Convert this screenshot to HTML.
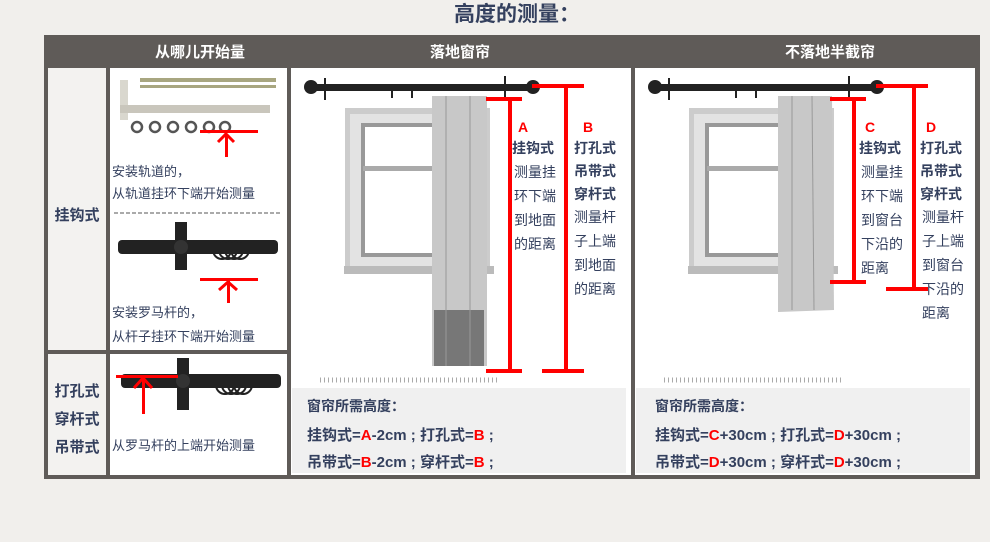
<!DOCTYPE html>
<html><head><meta charset="utf-8"><style>
body{margin:0;width:990px;height:537px;overflow:hidden;background:#f1efec;}
svg text{font-family:"Liberation Sans","Noto Sans CJK SC",sans-serif;}
</style></head><body>
<svg width="990" height="537" xmlns="http://www.w3.org/2000/svg">
<rect width="990" height="537" fill="#f1efec"/>
<text x="517" y="21" font-size="21" font-weight="bold" fill="#34405e" text-anchor="middle">高度的测量：</text>
<rect x="44" y="35" width="936" height="444" fill="#5f5b58"/>
<rect x="48" y="68" width="58" height="282" fill="#f3f2f0"/>
<rect x="110" y="68" width="177" height="282" fill="#fff"/>
<rect x="291" y="68" width="340" height="407" fill="#fff"/>
<rect x="635" y="68" width="340" height="407" fill="#fff"/>
<rect x="48" y="354" width="58" height="121" fill="#f3f2f0"/>
<rect x="110" y="354" width="177" height="121" fill="#fff"/>
<g font-size="15" font-weight="bold" fill="#fff" text-anchor="middle">
<text x="200" y="57">从哪儿开始量</text><text x="460" y="57">落地窗帘</text><text x="830" y="57">不落地半截帘</text></g>
<g font-size="15" font-weight="bold" fill="#34405e" text-anchor="middle">
<text x="77" y="220">挂钩式</text>
<text x="77" y="396">打孔式</text><text x="77" y="424">穿杆式</text><text x="77" y="452">吊带式</text></g>
<rect x="120" y="80" width="8" height="40" fill="#d9d7ce"/>
<rect x="140" y="78" width="136" height="4" fill="#a8a680"/><rect x="140" y="85" width="136" height="3" fill="#a8a680"/>
<rect x="120" y="105" width="150" height="8" fill="#c9c6bc"/>
<g fill="none" stroke="#555" stroke-width="2.5"><circle cx="137" cy="127" r="5"/><circle cx="155" cy="127" r="5"/><circle cx="173" cy="127" r="5"/><circle cx="191" cy="127" r="5"/><circle cx="209" cy="127" r="5"/><circle cx="225" cy="127" r="5"/></g>
<rect x="200" y="130" width="58" height="3" fill="red"/><rect x="225" y="135" width="3" height="22" fill="red"/>
<path d="M218 142 L226 134 L234 142" stroke="red" stroke-width="3" fill="none"/>
<g font-size="13" fill="#34405e"><text x="112" y="176">安装轨道的，</text><text x="112" y="198">从轨道挂环下端开始测量</text>
<text x="112" y="317">安装罗马杆的，</text><text x="112" y="341">从杆子挂环下端开始测量</text>
<text x="112" y="450">从罗马杆的上端开始测量</text></g>
<line x1="114" y1="213" x2="280" y2="213" stroke="#555" stroke-dasharray="4,2"/>
<rect x="118" y="240" width="160" height="14" rx="4" fill="#222"/>
<rect x="175" y="222" width="12" height="48" fill="#222"/><circle cx="181" cy="247" r="7" fill="#333"/>
<g fill="none" stroke="#222" stroke-width="2"><circle cx="222" cy="250" r="9"/><circle cx="228" cy="250" r="9"/><circle cx="234" cy="250" r="9"/><circle cx="240" cy="250" r="9"/></g>
<rect x="200" y="278" width="58" height="3" fill="red"/><rect x="227" y="281" width="3" height="22" fill="red"/>
<path d="M219 290 L228 282 L237 290" stroke="red" stroke-width="3" fill="none"/>
<rect x="121" y="374" width="160" height="14" rx="4" fill="#222"/>
<rect x="177" y="358" width="12" height="52" fill="#222"/><circle cx="183" cy="381" r="7" fill="#333"/>
<g fill="none" stroke="#222" stroke-width="2"><circle cx="225" cy="385" r="9"/><circle cx="231" cy="385" r="9"/><circle cx="237" cy="385" r="9"/><circle cx="243" cy="385" r="9"/></g>
<rect x="116" y="375" width="62" height="3" fill="red"/><rect x="142" y="378" width="3" height="36" fill="red"/>
<path d="M134 388 L143 378 L152 388" stroke="red" stroke-width="3" fill="none"/>
<g id="win">
<rect x="345" y="108" width="145" height="165" fill="#ccc"/><rect x="350" y="114" width="135" height="156" fill="#e3e3e3"/>
<rect x="363" y="125" width="110" height="130" fill="#fff" stroke="#999" stroke-width="4"/>
<rect x="363" y="166" width="110" height="5" fill="#aaa"/>
<rect x="344" y="266" width="150" height="8" fill="#bbb"/>
<rect x="310" y="84" width="225" height="7" rx="3" fill="#222"/><circle cx="311" cy="87" r="7" fill="#222"/><circle cx="533" cy="87" r="7" fill="#222"/>
<g stroke="#222" stroke-width="2"><line x1="325" y1="78" x2="325" y2="100"/><line x1="392" y1="88" x2="392" y2="98"/><line x1="412" y1="88" x2="412" y2="98"/><line x1="505" y1="76" x2="505" y2="98"/></g>
<line x1="320" y1="380" x2="500" y2="380" stroke="#aaa" stroke-width="5" stroke-dasharray="1,3"/>
</g>
<use href="#win" x="344" y="0"/>
<rect x="432" y="96" width="55" height="270" fill="#c8c8c8"/><rect x="434" y="310" width="50" height="56" fill="#777"/>
<line x1="446" y1="96" x2="446" y2="366" stroke="#999"/><line x1="470" y1="96" x2="470" y2="366" stroke="#999"/>
<path d="M778 96 L832 96 L834 310 L778 312 Z" fill="#c8c8c8"/>
<line x1="792" y1="96" x2="792" y2="310" stroke="#999"/><line x1="812" y1="96" x2="814" y2="310" stroke="#999"/>
<rect x="292" y="388" width="334" height="85" fill="#f0f0f0"/>
<rect x="636" y="388" width="334" height="85" fill="#f0f0f0"/>
<g fill="red">
<rect x="486" y="97" width="36" height="4"/><rect x="508" y="97" width="4" height="276"/><rect x="486" y="369" width="36" height="4"/>
<rect x="532" y="84" width="52" height="4"/><rect x="564" y="84" width="4" height="289"/><rect x="542" y="369" width="42" height="4"/>
<rect x="830" y="97" width="36" height="4"/><rect x="852" y="97" width="4" height="186"/><rect x="830" y="280" width="36" height="4"/>
<rect x="876" y="84" width="52" height="4"/><rect x="912" y="84" width="4" height="206"/><rect x="886" y="287" width="42" height="4"/></g>
<g font-size="14" font-weight="bold" fill="red"><text x="518" y="132">A</text><text x="583" y="132">B</text><text x="865" y="132">C</text><text x="926" y="132">D</text></g>
<g font-size="14" fill="#34405e">
<text x="512" y="153" font-weight="bold">挂钩式</text><text x="514" y="177">测量挂</text><text x="514" y="201">环下端</text><text x="514" y="225">到地面</text><text x="514" y="249">的距离</text>
<text x="574" y="153" font-weight="bold">打孔式</text><text x="574" y="176" font-weight="bold">吊带式</text><text x="574" y="199" font-weight="bold">穿杆式</text><text x="574" y="222">测量杆</text><text x="574" y="246">子上端</text><text x="574" y="270">到地面</text><text x="574" y="294">的距离</text>
<text x="859" y="153" font-weight="bold">挂钩式</text><text x="861" y="177">测量挂</text><text x="861" y="201">环下端</text><text x="861" y="225">到窗台</text><text x="861" y="249">下沿的</text><text x="861" y="273">距离</text>
<text x="920" y="153" font-weight="bold">打孔式</text><text x="920" y="176" font-weight="bold">吊带式</text><text x="920" y="199" font-weight="bold">穿杆式</text><text x="922" y="222">测量杆</text><text x="922" y="246">子上端</text><text x="922" y="270">到窗台</text><text x="922" y="294">下沿的</text><text x="922" y="318">距离</text></g>
<g font-size="15" font-weight="bold" fill="#34405e">
<text x="307" y="411" font-size="14">窗帘所需高度：</text>
<text x="307" y="440">挂钩式=<tspan fill="red">A</tspan>-2cm ; 打孔式=<tspan fill="red">B</tspan>  ;</text>
<text x="307" y="467">吊带式=<tspan fill="red">B</tspan>-2cm ; 穿杆式=<tspan fill="red">B</tspan>  ;</text>
<text x="655" y="411" font-size="14">窗帘所需高度：</text>
<text x="655" y="440">挂钩式=<tspan fill="red">C</tspan>+30cm ; 打孔式=<tspan fill="red">D</tspan>+30cm ;</text>
<text x="655" y="467">吊带式=<tspan fill="red">D</tspan>+30cm ; 穿杆式=<tspan fill="red">D</tspan>+30cm ;</text></g>
</svg>
</body></html>
